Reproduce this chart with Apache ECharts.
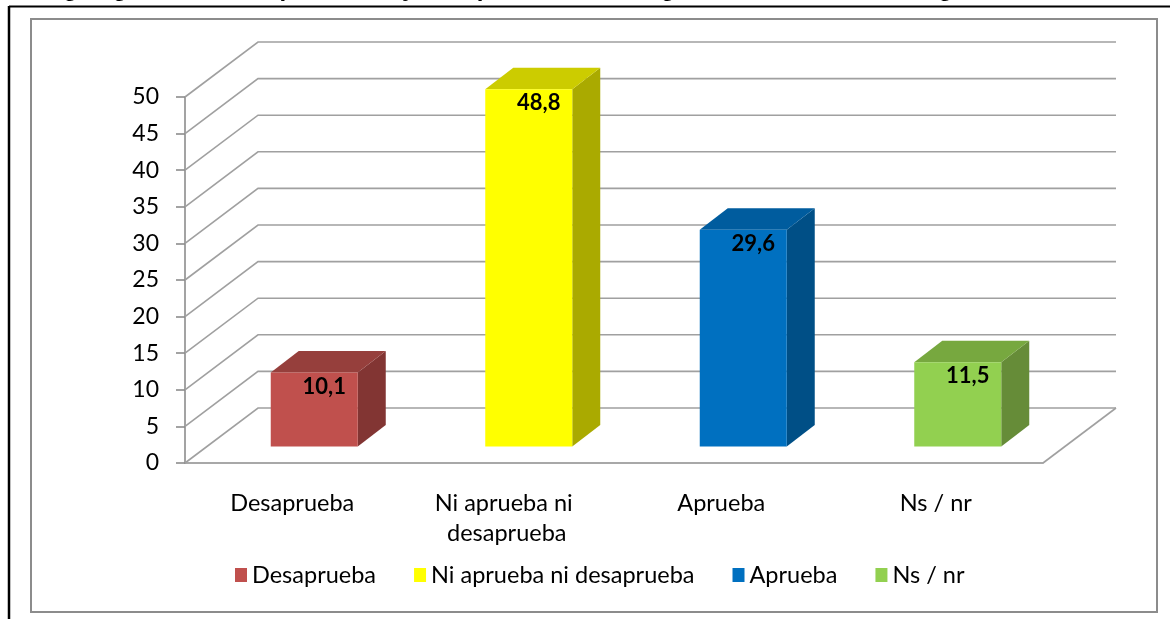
<!DOCTYPE html>
<html>
<head>
<meta charset="utf-8">
<script src="https://cdn.jsdelivr.net/npm/echarts@6/dist/echarts.min.js"></script>
<style>
  html, body { margin: 0; padding: 0; background: #fff; }
  #chart { width: 1170px; height: 619px; }
</style>
</head>
<body>
<div id="chart"></div>
<script>
// datos del gráfico
var categorias = ["Desaprueba", "Ni aprueba ni desaprueba", "Aprueba", "Ns / nr"];
var valores = [10.1, 48.8, 29.6, 11.5];
var ticksY = [0, 5, 10, 15, 20, 25, 30, 35, 40, 45, 50];
var tituloCortado = "Imagen general de la aprobación y desaprobación de la gestión del Gobierno Regional";

// colores: frente, arriba, lado
var colores = [
  ["#C0504D", "#963F3C", "#823533"],
  ["#FFFF00", "#CCCC00", "#AAAA00"],
  ["#0070C0", "#005C9E", "#004F86"],
  ["#92D050", "#77A83F", "#668C38"]
];

var fuente = "Lato, 'Noto Sans', sans-serif";
// profundidad del muro (perspectiva oblicua)
var PX = 73, PY = 55;

var myChart = echarts.init(document.getElementById("chart"));

// muro trasero + piso
function dibujarMuro(params, api) {
  var cs = params.coordSys;
  var y = api.coord([0, api.value(1)])[1];
  var x0 = cs.x, x1 = cs.x + cs.width;
  var hijos = [{
    type: "polyline",
    shape: { points: [[x0, y], [x0 + PX, y - PY], [x1 + PX, y - PY]] },
    style: { fill: null, stroke: "#a0a0a0", lineWidth: 1.6 }
  }];
  if (api.value(1) === 0) {
    hijos.push({
      type: "line",
      shape: { x1: x1, y1: y, x2: x1 + PX, y2: y - PY },
      style: { stroke: "#a0a0a0", lineWidth: 1.6 }
    });
  }
  return { type: "group", children: hijos };
}

function dibujarBarra(col) {
  return function (params, api) {
    var base = api.coord([api.value(0), 0]);
    var tope = api.coord([api.value(0), api.value(1)]);
    var cx = base[0] + 22;
    var yb = base[1] - 16.5, yt = tope[1] - 16.5;
    var L = cx - 43.5, R = cx + 43.5, dx = 28, dy = 21.5;
    var txt = api.value(1).toFixed(1).replace(".", ",");
    return {
      type: "group",
      children: [
        { type: "polygon", shape: { points: [[R, yt], [R + dx, yt - dy], [R + dx, yb - dy], [R, yb]] }, style: { fill: col[2] } },
        { type: "polygon", shape: { points: [[L, yt], [L + dx, yt - dy], [R + dx, yt - dy], [R, yt]] }, style: { fill: col[1] } },
        { type: "rect", shape: { x: L, y: yt, width: R - L, height: yb - yt }, style: { fill: col[0] } },
        { type: "text", x: cx + 10, y: yt + 14, style: { text: txt, fill: "#000", font: "bold 22px " + fuente, align: "center", verticalAlign: "middle" } }
      ]
    };
  };
}

var series = [{
  type: "custom",
  name: "muro",
  renderItem: dibujarMuro,
  data: ticksY.map(function (v) { return [0, v]; }),
  z: 1,
  silent: true
}];

categorias.forEach(function (c, i) {
  series.push({
    type: "custom",
    name: c,
    renderItem: dibujarBarra(colores[i]),
    itemStyle: { color: colores[i][0] },
    data: [[i, valores[i]]],
    z: 3
  });
});

var option = {
  animation: false,
  backgroundColor: "#fff",
  grid: { left: 185, right: 127, top: 97, bottom: 156 },
  graphic: [
    { type: "text", left: 22, top: -23, style: { text: tituloCortado, font: "bold 24px 'Liberation Sans', Arial, sans-serif", fill: "#000" } },
    { type: "line", shape: { x1: 9, y1: 6.5, x2: 1170, y2: 6.5 }, style: { stroke: "#000", lineWidth: 2 } },
    { type: "line", shape: { x1: 9, y1: 6, x2: 9, y2: 619 }, style: { stroke: "#000", lineWidth: 2.5 } },
    { type: "rect", shape: { x: 31, y: 19, width: 1126, height: 593 }, style: { fill: null, stroke: "#8c8c8c", lineWidth: 2 } }
  ],
  legend: {
    data: categorias,
    left: 230,
    top: 558,
    icon: "rect",
    itemWidth: 12,
    itemHeight: 14,
    itemGap: 38,
    textStyle: { fontFamily: fuente, fontSize: 23.5, color: "#000" }
  },
  xAxis: {
    type: "category",
    data: categorias,
    axisLine: { lineStyle: { color: "#8c8c8c", width: 1.6 } },
    axisTick: { length: 9, lineStyle: { color: "#8c8c8c", width: 1.6 } },
    axisLabel: {
      margin: 25,
      fontFamily: fuente,
      fontSize: 23.5,
      lineHeight: 30,
      color: "#000",
      width: 190,
      overflow: "break",
      interval: 0
    }
  },
  yAxis: {
    type: "value",
    min: 0,
    max: 50,
    interval: 5,
    axisLine: { show: true, lineStyle: { color: "#8c8c8c", width: 1.6 } },
    axisTick: { show: true, length: 9, lineStyle: { color: "#8c8c8c", width: 1.6 } },
    splitLine: { show: false },
    axisLabel: { margin: 26, fontFamily: fuente, fontSize: 23, color: "#000" }
  },
  series: series
};

myChart.setOption(option);
</script>
</body>
</html>
